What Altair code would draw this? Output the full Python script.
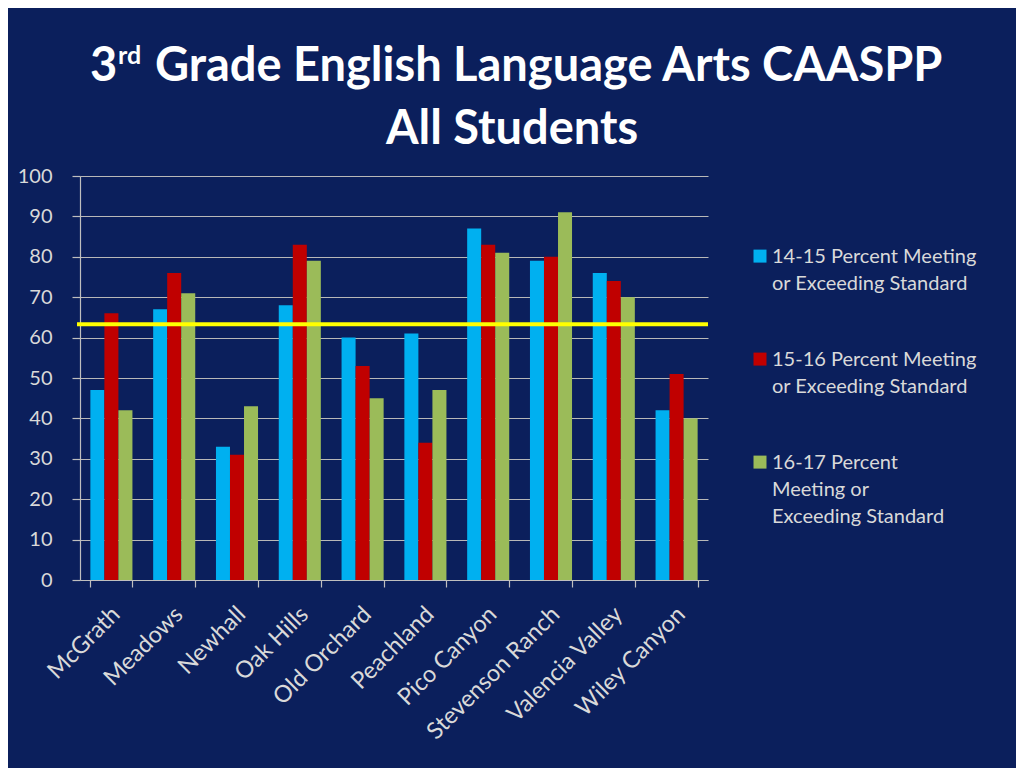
import altair as alt
import pandas as pd

schools = ["McGrath", "Meadows", "Newhall", "Oak Hills", "Old Orchard", "Peachland",
           "Pico Canyon", "Stevenson Ranch", "Valencia Valley", "Wiley Canyon"]
series = ["14-15 Percent Meeting\nor Exceeding Standard",
          "15-16 Percent Meeting\nor Exceeding Standard",
          "16-17  Percent\nMeeting or\nExceeding Standard"]
y1415 = [47, 67, 33, 68, 60, 61, 87, 79, 76, 42]
y1516 = [66, 76, 31, 83, 53, 34, 83, 80, 74, 51]
y1617 = [42, 71, 43, 79, 45, 47, 81, 91, 70, 40]
target = [63.3]
colors = ["#00B0F0", "#C00000", "#9BBB59"]

rows = []
for vals, s in zip([y1415, y1516, y1617], series):
    for sc, v in zip(schools, vals):
        rows.append({"school": sc, "series": s, "value": v})
df = pd.DataFrame(rows)

BG = "#0B1F5C"
TXT = "#D9D9D9"
FONT = "Lato"

bars = alt.Chart(df).mark_bar().encode(
    x=alt.X("school:N", sort=schools, title=None,
            scale=alt.Scale(paddingInner=0.33, paddingOuter=0.165),
            axis=alt.Axis(labelAngle=315, labelFontSize=23.5, labelColor=TXT, labelFont=FONT,
                          domainColor="#BFBFBF", tickColor="#BFBFBF", tickSize=7,
                          tickBand="extent", labelPadding=15, labelOffset=-4, grid=False)),
    xOffset=alt.XOffset("series:N", sort=series),
    y=alt.Y("value:Q", title=None,
            scale=alt.Scale(domain=[0, 100]),
            axis=alt.Axis(values=list(range(0, 101, 10)), labelFontSize=20, labelColor=TXT,
                          labelFont=FONT, domainColor="#BFBFBF", tickColor="#BFBFBF",
                          tickSize=8, labelPadding=20, gridColor="#B8B8B8", gridWidth=1)),
    color=alt.Color("series:N", sort=series,
                    scale=alt.Scale(domain=series, range=colors),
                    legend=alt.Legend(title=None, orient="none", legendX=670, legendY=61,
                                      symbolType="M-1,0.4L1,0.4L1,2.4L-1,2.4Z",
                                      symbolSize=169, symbolStrokeWidth=0,
                                      symbolOpacity=1,
                                      labelFontSize=20, labelColor=TXT, labelFont=FONT,
                                      labelLimit=400, labelBaseline="top",
                                      labelExpr="split(datum.label, '\\n')",
                                      rowPadding=46, labelOffset=2)),
)

rule = alt.Chart(pd.DataFrame({"t": target})).mark_rule(color="#FFFF00", strokeWidth=4).encode(
    y="t:Q", x=alt.value(-3), x2=alt.value(628)
)

title_main = alt.Chart(pd.DataFrame({"a": [0]})).mark_text(
    font=FONT, fontWeight="bold", fontSize=47, color="white", align="left", baseline="alphabetic"
).encode(x=alt.value(10), y=alt.value(-95), text=alt.value("3"))
title_sup = alt.Chart(pd.DataFrame({"a": [0]})).mark_text(
    font=FONT, fontWeight="bold", fontSize=25, color="white", align="left", baseline="alphabetic"
).encode(x=alt.value(38), y=alt.value(-112), text=alt.value("rd"))
title_rest = alt.Chart(pd.DataFrame({"a": [0]})).mark_text(
    font=FONT, fontWeight="bold", fontSize=47, color="white", align="left", baseline="alphabetic"
).encode(x=alt.value(75), y=alt.value(-95), text=alt.value("Grade English Language Arts CAASPP"))
title_2 = alt.Chart(pd.DataFrame({"a": [0]})).mark_text(
    font=FONT, fontWeight="bold", fontSize=47, color="white", align="center", baseline="alphabetic"
).encode(x=alt.value(432), y=alt.value(-32), text=alt.value("All Students"))

chart = alt.layer(bars, rule, title_main, title_sup, title_rest, title_2).properties(
    width=628, height=404, background=BG,
    autosize=alt.AutoSizeParams(type="none"),
    padding={"left": 72, "top": 168, "right": 308, "bottom": 188},
).configure(
    style={"guide-label": {"lineHeight": 27}}
).configure_view(strokeWidth=0).configure_axis(domainWidth=1.2, tickWidth=1.2)

chart.save("out.html", embed_options={"renderer": "svg", "actions": False})
